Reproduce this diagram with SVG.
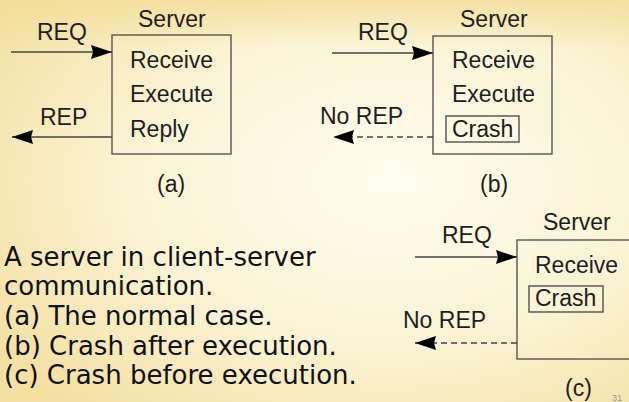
<svg xmlns="http://www.w3.org/2000/svg" width="629" height="402" viewBox="0 0 629 402">
<defs>
  <radialGradient id="bg" cx="0.62" cy="0.45" r="0.75">
    <stop offset="0" stop-color="#fffdf0"/>
    <stop offset="0.55" stop-color="#fbf3d3"/>
    <stop offset="1" stop-color="#f3e0a2"/>
  </radialGradient>
  <linearGradient id="top" x1="0" y1="0" x2="0" y2="1">
    <stop offset="0" stop-color="#f3dd98" stop-opacity="0.8"/>
    <stop offset="0.12" stop-color="#f3dd98" stop-opacity="0"/>
    <stop offset="1" stop-color="#f3dd98" stop-opacity="0"/>
  </linearGradient>
  <marker id="ah" markerUnits="userSpaceOnUse" markerWidth="22" markerHeight="15" refX="21" refY="7" orient="auto">
    <path d="M0,0 L21,7 L0,14 L2,7 Z" fill="#000"/>
  </marker>
  <style>
    .t { font-family: "Liberation Sans", Arial, Helvetica, sans-serif; font-size: 23px; fill: #1e1e1e; }
    .cap { font-family: "DejaVu Sans", Verdana, sans-serif; font-size: 26px; fill: #111; }
    .box { fill: none; stroke: #555; stroke-width: 1.4; }
    .cbox { fill: none; stroke: #444; stroke-width: 1.3; }
    .ln { fill: none; stroke: #444; stroke-width: 1.4; marker-end: url(#ah); }
    .dash { stroke-dasharray: 6 4; }
  </style>
</defs>
<rect x="0" y="0" width="629" height="402" fill="url(#bg)"/>
<rect x="0" y="0" width="629" height="402" fill="url(#top)"/>

<g id="serverA">
  <text class="t" x="138" y="27">Server</text>
  <rect class="box" x="112" y="35" width="119" height="119"/>
  <text class="t" x="130" y="68">Receive</text>
  <text class="t" x="130" y="102">Execute</text>
  <text class="t" x="130" y="137">Reply</text>
  <text class="t" x="157" y="192">(a)</text>
</g>

<g id="serverB">
  <text class="t" x="460" y="27">Server</text>
  <rect class="box" x="433" y="36" width="119" height="118"/>
  <text class="t" x="452" y="68">Receive</text>
  <text class="t" x="452" y="102">Execute</text>
  <rect class="cbox" x="446" y="116" width="73" height="26"/>
  <text class="t" x="452" y="137">Crash</text>
  <text class="t" x="480" y="192">(b)</text>
</g>

<g id="serverC">
  <text class="t" x="543" y="230">Server</text>
  <rect class="box" x="517" y="240" width="140" height="119"/>
  <text class="t" x="535" y="273">Receive</text>
  <rect class="cbox" x="529" y="286" width="74" height="26"/>
  <text class="t" x="535" y="306">Crash</text>
  <text class="t" x="565" y="396">(c)</text>
</g>

<g id="connectors">
  <line class="ln" x1="11" y1="52" x2="112" y2="52"/>
  <text class="t" x="37" y="40">REQ</text>
  <line class="ln" x1="112" y1="137" x2="12" y2="137"/>
  <text class="t" x="40" y="125">REP</text>

  <line class="ln" x1="332" y1="53" x2="433" y2="53"/>
  <text class="t" x="358" y="40">REQ</text>
  <line class="ln dash" x1="433" y1="137" x2="333" y2="137"/>
  <text class="t" x="320" y="124">No REP</text>

  <line class="ln" x1="415" y1="257" x2="517" y2="257"/>
  <text class="t" x="442" y="243">REQ</text>
  <line class="ln dash" x1="517" y1="343" x2="415" y2="343"/>
  <text class="t" x="403" y="328">No REP</text>
</g>

<g id="caption">
  <text class="cap" x="4" y="266">A server in client-server</text>
  <text class="cap" x="4" y="295">communication.</text>
  <text class="cap" x="4" y="325">(a) The normal case.</text>
  <text class="cap" x="4" y="355">(b) Crash after execution.</text>
  <text class="cap" x="4" y="384">(c) Crash before execution.</text>
</g>

<g id="page-number">
  <text x="612" y="401" font-family="Liberation Sans, Arial, sans-serif" font-size="9" fill="#999">31</text>
</g>
</svg>
